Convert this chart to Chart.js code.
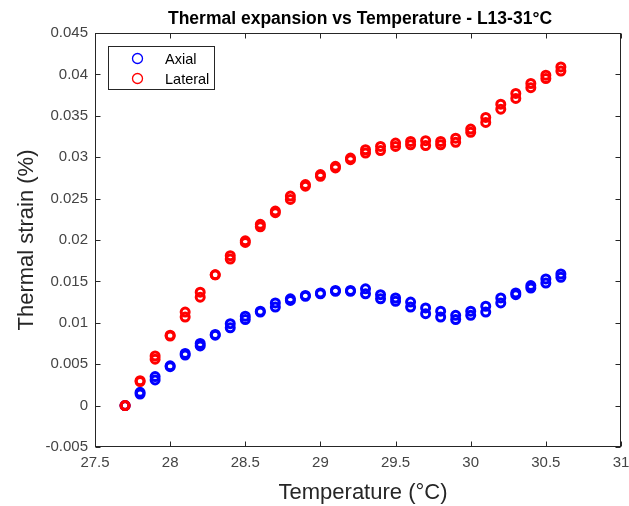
<!DOCTYPE html>
<html>
<head>
<meta charset="utf-8">
<title>Thermal expansion vs Temperature - L13-31°C</title>
<script src="https://cdn.jsdelivr.net/npm/chart.js@4.4.1/dist/chart.umd.min.js"></script>
<style>
  html, body { margin: 0; padding: 0; background: #fff; }
  #wrap { width: 629px; height: 506px; }
</style>
</head>
<body>
<div id="wrap"><canvas id="strainChart" width="629" height="506"></canvas></div>
<script>
// Temperature steps (°C) and the two readings taken at each step
const temperatures = [
  27.7, 27.8, 27.9, 28.0, 28.1, 28.2, 28.3, 28.4, 28.5, 28.6,
  28.7, 28.8, 28.9, 29.0, 29.1, 29.2, 29.3, 29.4, 29.5, 29.6,
  29.7, 29.8, 29.9, 30.0, 30.1, 30.2, 30.3, 30.4, 30.5, 30.6
];
const axialHigh = [
  0.0000, 0.0016, 0.0035, 0.0048, 0.0063, 0.0075, 0.0086, 0.0099, 0.0108, 0.0114,
  0.0124, 0.0129, 0.0133, 0.0136, 0.0139, 0.0139, 0.0141, 0.0134, 0.0130, 0.0125,
  0.0118, 0.0114, 0.0109, 0.0114, 0.0120, 0.0130, 0.0136, 0.0145, 0.0153, 0.0159
];
const axialLow = [
  0.0000, 0.0014, 0.0031, 0.0047, 0.0061, 0.0072, 0.0085, 0.0094, 0.0104, 0.0113,
  0.0119, 0.0127, 0.0132, 0.0135, 0.0138, 0.0138, 0.0135, 0.0129, 0.0126, 0.0119,
  0.0111, 0.0107, 0.0104, 0.0109, 0.0113, 0.0124, 0.0134, 0.0142, 0.0148, 0.0155
];
const lateralHigh = [
  0.0000, 0.0030, 0.0060, 0.0085, 0.0113, 0.0137, 0.0158, 0.0181, 0.0199, 0.0219,
  0.0235, 0.0253, 0.0267, 0.0279, 0.0289, 0.0299, 0.0309, 0.0313, 0.0317, 0.0319,
  0.0320, 0.0319, 0.0323, 0.0334, 0.0348, 0.0364, 0.0377, 0.0389, 0.0399, 0.0409
];
const lateralLow = [
  0.0000, 0.0029, 0.0056, 0.0084, 0.0107, 0.0131, 0.0158, 0.0177, 0.0197, 0.0216,
  0.0233, 0.0249, 0.0265, 0.0277, 0.0287, 0.0297, 0.0305, 0.0308, 0.0313, 0.0315,
  0.0314, 0.0315, 0.0318, 0.0330, 0.0342, 0.0358, 0.0371, 0.0384, 0.0395, 0.0404
];

const xTicks = [27.5, 28, 28.5, 29, 29.5, 30, 30.5, 31];
const xTickLabels = ['27.5', '28', '28.5', '29', '29.5', '30', '30.5', '31'];
const yTicks = [-0.005, 0, 0.005, 0.01, 0.015, 0.02, 0.025, 0.03, 0.035, 0.04, 0.045];
const yTickLabels = ['-0.005', '0', '0.005', '0.01', '0.015', '0.02', '0.025', '0.03', '0.035', '0.04', '0.045'];

const FONT = "'Liberation Sans', Arial, Helvetica, sans-serif";
const AXIS_COLOR = '#262626';
const BLUE = '#0000ff';
const RED = '#ff0000';

function toPoints(values) {
  return temperatures.map((t, i) => ({ x: t, y: values[i] }));
}

// box, inward tick marks, titles and legend
const framePlugin = {
  id: 'frame',
  afterDraw(chart) {
    const { ctx, chartArea: a, scales } = chart;
    const L = Math.round(a.left) + 0.5, R = Math.round(a.right) - 0.5;
    const T = Math.round(a.top) + 0.5, B = Math.round(a.bottom) - 0.5;
    const tick = 5;

    ctx.save();
    ctx.strokeStyle = AXIS_COLOR;
    ctx.lineWidth = 1;
    ctx.strokeRect(L, T, R - L, B - T);

    ctx.beginPath();
    xTicks.forEach(v => {
      const px = Math.round(scales.x.getPixelForValue(v)) + 0.5;
      ctx.moveTo(px, B); ctx.lineTo(px, B - tick);
      ctx.moveTo(px, T); ctx.lineTo(px, T + tick);
    });
    yTicks.forEach(v => {
      const py = Math.round(scales.y.getPixelForValue(v)) + 0.5;
      ctx.moveTo(L, py); ctx.lineTo(L + tick, py);
      ctx.moveTo(R, py); ctx.lineTo(R - tick, py);
    });
    ctx.stroke();

    // title
    ctx.fillStyle = '#000';
    ctx.textAlign = 'center';
    ctx.textBaseline = 'alphabetic';
    ctx.font = `bold 17.5px ${FONT}`;
    ctx.fillText('Thermal expansion vs Temperature - L13-31°C', 360, 24);

    // axis titles
    ctx.fillStyle = AXIS_COLOR;
    ctx.font = `22px ${FONT}`;
    ctx.fillText('Temperature (°C)', 363, 499);
    ctx.save();
    ctx.translate(33, 240);
    ctx.rotate(-Math.PI / 2);
    ctx.fillText('Thermal strain (%)', 0, 0);
    ctx.restore();

    // legend
    const lx = 108.5, ly = 46.5, lw = 106, lh = 43;
    ctx.fillStyle = '#fff';
    ctx.fillRect(lx, ly, lw, lh);
    ctx.strokeStyle = AXIS_COLOR;
    ctx.strokeRect(lx, ly, lw, lh);
    const entries = [['Axial', BLUE, 58.5], ['Lateral', RED, 78.5]];
    ctx.font = `14.5px ${FONT}`;
    ctx.textAlign = 'left';
    ctx.textBaseline = 'middle';
    entries.forEach(([label, color, y]) => {
      ctx.beginPath();
      ctx.strokeStyle = color;
      ctx.lineWidth = 1.3;
      ctx.arc(137.5, y, 5, 0, Math.PI * 2);
      ctx.stroke();
      ctx.fillStyle = '#000';
      ctx.fillText(label, 165, y + 1);
    });
    ctx.restore();
  }
};

const markerStyle = {
  showLine: false,
  pointStyle: 'circle',
  pointRadius: 4,
  pointHoverRadius: 4,
  borderWidth: 3,
  backgroundColor: 'rgba(0,0,0,0)'
};

new Chart(document.getElementById('strainChart'), {
  type: 'scatter',
  data: {
    datasets: [
      {
        label: 'Lateral',
        data: toPoints(lateralHigh).concat(toPoints(lateralLow)),
        borderColor: RED,
        order: 0,
        ...markerStyle
      },
      {
        label: 'Axial',
        data: toPoints(axialHigh).concat(toPoints(axialLow)),
        borderColor: BLUE,
        order: 1,
        ...markerStyle
      }
    ]
  },
  options: {
    responsive: false,
    animation: false,
    layout: { padding: { top: 33, right: 8, bottom: 0, left: 0 } },
    plugins: {
      legend: { display: false },
      title: { display: false },
      tooltip: { enabled: false }
    },
    scales: {
      x: {
        type: 'linear',
        min: 27.5,
        max: 31,
        grid: { display: false, drawTicks: false },
        border: { display: false },
        ticks: {
          autoSkip: false,
          maxRotation: 0,
          padding: 7,
          color: '#444',
          font: { family: FONT, size: 15 },
          callback: (value, index) => xTickLabels[index]
        },
        afterBuildTicks: scale => { scale.ticks = xTicks.map(v => ({ value: v })); },
        afterFit: scale => { scale.height = 59; scale.paddingLeft = 0; scale.paddingRight = 0; }
      },
      y: {
        type: 'linear',
        min: -0.005,
        max: 0.045,
        grid: { display: false, drawTicks: false },
        border: { display: false },
        ticks: {
          autoSkip: false,
          padding: 7,
          color: '#444',
          font: { family: FONT, size: 15 },
          callback: (value, index) => yTickLabels[index]
        },
        afterBuildTicks: scale => { scale.ticks = yTicks.map(v => ({ value: v })); },
        afterFit: scale => { scale.width = 95; scale.paddingTop = 0; scale.paddingBottom = 0; }
      }
    }
  },
  plugins: [framePlugin]
});
</script>
</body>
</html>
